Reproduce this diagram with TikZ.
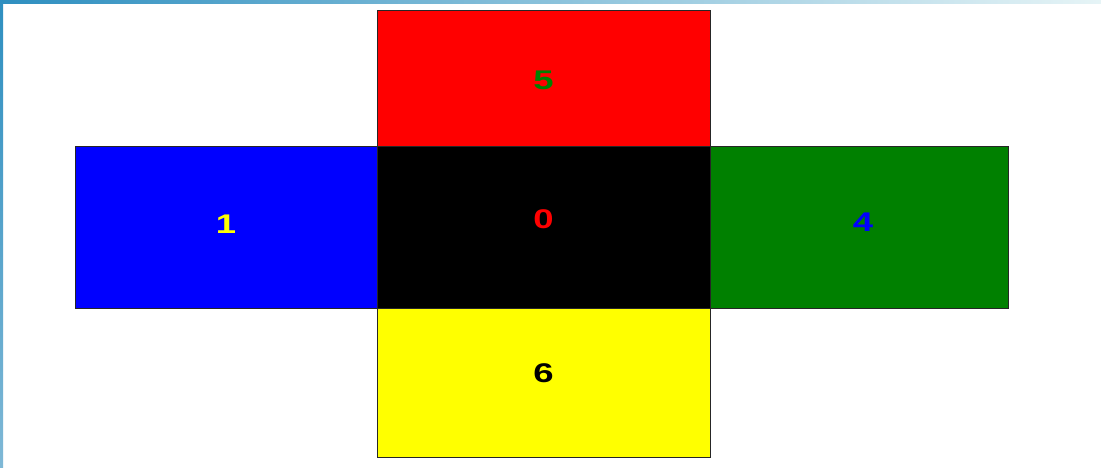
\documentclass[tikz,border=0pt]{standalone}
\usepackage{fontspec}
\setmainfont{Liberation Sans}
\usepackage{xcolor}
\usetikzlibrary{positioning}

\definecolor{framblue}{HTML}{2E8FC0}
\definecolor{framlight}{HTML}{E6F4F6}
\definecolor{framside}{HTML}{7FB8D6}
\definecolor{facegreen}{HTML}{008000}
\definecolor{facered}{HTML}{FF0000}
\definecolor{faceblue}{HTML}{0000FF}
\definecolor{faceyellow}{HTML}{FFFF00}

\begin{document}
\begin{tikzpicture}[
  x=1pt, y=-1pt,
  face/.style={draw=black!85, line width=1pt, outer sep=0pt, inner sep=0pt,
               minimum width=333pt, minimum height=162pt},
  num/.style={font=\bfseries\fontsize{27}{27}\selectfont, xscale=1.35},
  node distance=0pt
]
\useasboundingbox (0,0) rectangle (1101,467);
\fill[white] (0,0) rectangle (1101,467);
% --- window frame ---
\fill[left color=framblue, right color=framlight] (0,0) rectangle (1101,3);
\fill[top color=framblue, bottom color=framside] (0,0) rectangle (3,467);
% --- faces of the unfolded cube ---
\node[face, fill=black] (f0) at (543.5,227) {};
\node[face, fill=facered, minimum height=136pt, above=of f0] (f5) {};
\node[face, fill=faceblue, minimum width=302pt, left=of f0] (f1) {};
\node[face, fill=facegreen, minimum width=298pt, right=of f0] (f4) {};
\node[face, fill=faceyellow, minimum height=149pt, below=of f0] (f6) {};
% --- numbers ---
\node[num, text=facered] (n0) at ([yshift=8pt]f0.center) {0};
\node[num, text=facegreen] (n5) at ([yshift=-2pt]f5.center) {5};
\node[num, text=faceyellow] (n1) at ([yshift=3pt]f1.center) {1};
\node[num, text=faceblue] (n4) at ([xshift=4pt,yshift=5pt]f4.center) {4};
\node[num, text=black] (n6) at ([yshift=9pt]f6.center) {6};
\end{tikzpicture}
\end{document}
